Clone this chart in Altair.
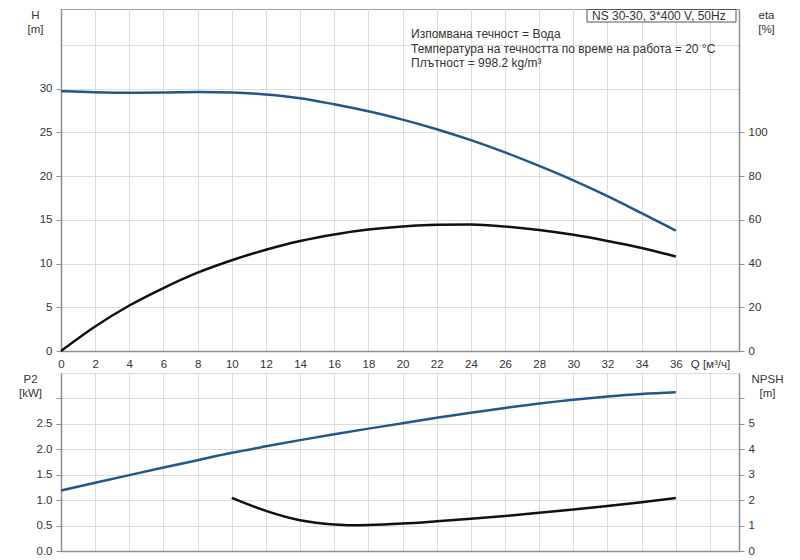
import altair as alt
import pandas as pd

# ---------------- data ----------------
Q = [0, 2, 4, 6, 8, 10, 12, 14, 16, 18, 20, 22, 24, 26, 28, 30, 32, 34, 36]
H = [29.7, 29.58, 29.52, 29.55, 29.6, 29.55, 29.33, 28.9, 28.2, 27.4, 26.45,
     25.35, 24.1, 22.7, 21.15, 19.5, 17.7, 15.75, 13.75]
ETA = [0, 11.2, 20.8, 28.8, 35.8, 41.5, 46.3, 50.3, 53.3, 55.5, 56.9,
       57.7, 57.8, 56.9, 55.3, 53.1, 50.3, 47.1, 43.2]
P2 = [1.19, 1.342, 1.492, 1.640, 1.786, 1.930, 2.058, 2.180, 2.296, 2.406, 2.510,
      2.618, 2.718, 2.812, 2.900, 2.974, 3.036, 3.086, 3.120]
Q_NPSH = [10, 12, 14, 16, 17, 18, 20, 22, 24, 26, 28, 30, 32, 34, 36]
NPSH = [2.09, 1.58, 1.21, 1.04, 1.01, 1.02, 1.08, 1.17, 1.27, 1.38, 1.50,
        1.63, 1.77, 1.92, 2.08]

X_TICKS = list(range(0, 40, 2))
H_GRID = [0, 5, 10, 15, 20, 25, 30, 35]
ETA_TICKS = [0, 20, 40, 60, 80, 100]
P2_GRID = [0, 0.5, 1.0, 1.5, 2.0, 2.5, 3.0, 3.5]
NPSH_TICKS = [0, 1, 2, 3, 4, 5, 6]

Q_LABEL = "Q [м³/ч]"
MODEL = ["NS 30-30, 3*400 V, 50Hz"]
INFO = ["Изпомвана течност = Вода",
        "Температура на течността по време на работа = 20 °C",
        "Плътност = 998.2 kg/m³"]

BLUE = "#215789"
BLACK = "#111111"
FONT = "Liberation Sans"
TXT = "#333333"

df_top = pd.DataFrame({"Q": Q, "H": H, "eta": ETA})
df_p2 = pd.DataFrame({"Q": Q, "P2": P2})
df_npsh = pd.DataFrame({"Q": Q_NPSH, "NPSH": NPSH})

W = 678
X_DOMAIN = [0, 39.7]

x_top = alt.X("Q:Q", scale=alt.Scale(domain=X_DOMAIN, nice=False, zero=False),
              axis=alt.Axis(values=X_TICKS, grid=True, ticks=False, title=None,
                            labelExpr=f"datum.value == 38 ? '{Q_LABEL}' : datum.label",
                            labelFlush=False, labelOverlap=False, labelPadding=7))
x_bot = alt.X("Q:Q", scale=alt.Scale(domain=X_DOMAIN, nice=False, zero=False),
              axis=alt.Axis(values=X_TICKS, grid=True, ticks=False, labels=False, title=None))

h_line = alt.Chart(df_top).mark_line(color=BLUE, strokeWidth=2.5, interpolate="monotone").encode(
    x=x_top,
    y=alt.Y("H:Q", scale=alt.Scale(domain=[0, 39.09], nice=False),
            axis=alt.Axis(orient="left", values=H_GRID, grid=True,
                          labelExpr="datum.value <= 30 ? datum.label : ''",
                          tickOpacity={"condition": {"test": "datum.value <= 30", "value": 1}, "value": 0},
                          title=["H", "[m]"], titleAngle=0, titleAlign="center",
                          titleBaseline="top", titleX=-26, titleY=0)),
)
eta_line = alt.Chart(df_top).mark_line(color=BLACK, strokeWidth=2.5, interpolate="monotone").encode(
    x=x_top,
    y=alt.Y("eta:Q", scale=alt.Scale(domain=[0, 156.36], nice=False),
            axis=alt.Axis(orient="right", values=ETA_TICKS, grid=False,
                          title=["eta", "[%]"], titleAngle=0, titleAlign="center",
                          titleBaseline="top", titleX=27, titleY=0)),
)

box = alt.Chart(pd.DataFrame({"t": MODEL})).mark_rect(fill="white", stroke="#555555", strokeWidth=1).encode(
    x=alt.value(526), x2=alt.value(675), y=alt.value(0.5), y2=alt.value(13))
model_txt = alt.Chart(pd.DataFrame({"t": MODEL})).mark_text(
    align="left", baseline="middle", fontSize=12, font=FONT, color=TXT).encode(
    x=alt.value(531), y=alt.value(6.5), text="t:N")

info_layers = []
for i, line in enumerate(INFO):
    info_layers.append(
        alt.Chart(pd.DataFrame({"t": [line]})).mark_text(
            align="left", baseline="middle", fontSize=12, font=FONT, color=TXT).encode(
            x=alt.value(350), y=alt.value(25.3 + 14.5 * i), text="t:N"))

top = alt.layer(h_line, eta_line, box, model_txt, *info_layers).resolve_scale(
    y="independent").properties(width=W, height=342)

p2_line = alt.Chart(df_p2).mark_line(color=BLUE, strokeWidth=2.5, interpolate="monotone").encode(
    x=x_bot,
    y=alt.Y("P2:Q", scale=alt.Scale(domain=[0, 3.5], nice=False),
            axis=alt.Axis(orient="left", values=P2_GRID, grid=True,
                          labelExpr="datum.value <= 2.5 ? format(datum.value, '.1f') : ''",
                          tickOpacity={"condition": {"test": "datum.value <= 3.0", "value": 1}, "value": 0},
                          title=["P2", "[kW]"], titleAngle=0, titleAlign="center",
                          titleBaseline="top", titleX=-31, titleY=0)),
)
npsh_line = alt.Chart(df_npsh).mark_line(color=BLACK, strokeWidth=2.5, interpolate="monotone").encode(
    x=x_bot,
    y=alt.Y("NPSH:Q", scale=alt.Scale(domain=[0, 7], nice=False),
            axis=alt.Axis(orient="right", values=NPSH_TICKS, grid=False,
                          labelExpr="datum.value <= 5 ? datum.label : ''",
                          title=["NPSH", "[m]"], titleAngle=0, titleAlign="center",
                          titleBaseline="top", titleX=28, titleY=0)),
)

bottom = alt.layer(p2_line, npsh_line).resolve_scale(y="independent").properties(width=W, height=178)

chart = alt.vconcat(top, bottom, spacing=22, bounds="flush").properties(
    padding={"left": 10, "top": 0, "right": 5, "bottom": 0}
).configure_view(stroke="#a0a0a0", strokeWidth=1).configure_axis(
    domainColor="#8f8f8f", domainWidth=1.5, gridColor="#dcdcdc", gridWidth=1,
    tickColor="#8f8f8f", tickSize=5, labelPadding=4,
    labelColor=TXT, labelFont=FONT, labelFontSize=11.5,
    titleColor=TXT, titleFont=FONT, titleFontSize=11.5, titleFontWeight="normal",
    titleLineHeight=14,
)

chart.save("out.html", embed_options={"renderer": "svg", "actions": False})
